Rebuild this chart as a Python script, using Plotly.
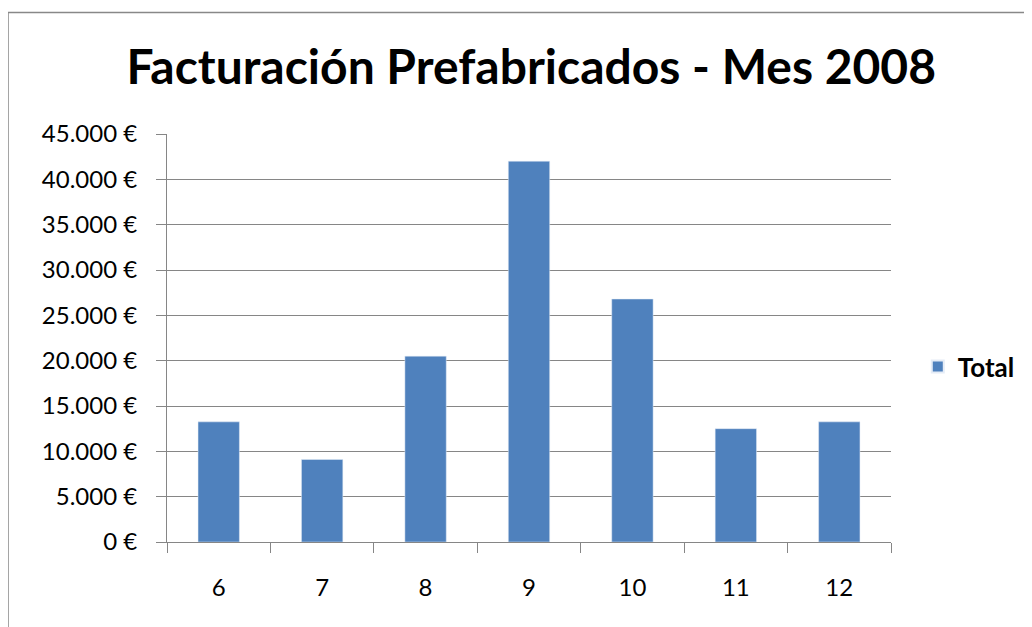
import plotly.graph_objects as go

# Datos: facturación por mes (2008)
meses = ['6', '7', '8', '9', '10', '11', '12']
total = [13250, 9100, 20500, 42000, 26800, 12500, 13250]

fig = go.Figure()
fig.add_trace(go.Bar(x=meses, y=total, name='<b>Total</b>', marker_color='#4F81BD'))

fig.update_layout(
    width=1032, height=627,
    margin=dict(l=159, r=149, t=126, b=93),
    paper_bgcolor='white', plot_bgcolor='white',
    separators=',.',
    font=dict(family='Lato', color='black'),
    bargap=0.6,
    title=dict(text='<b>Facturación Prefabricados - Mes 2008</b>',
               x=0.507, xanchor='center', y=1 - 59 / 627, yanchor='middle',
               font=dict(size=48, family='Lato', color='black')),
    showlegend=True,
    legend=dict(x=1.037, xanchor='left', y=0.43, yanchor='middle',
                font=dict(size=26, family='Lato', color='black'),
                itemsizing='constant'),
)

fig.update_yaxes(range=[0, 45000], dtick=5000, tickformat=',.0f', ticksuffix=' €',
                 showgrid=True, gridcolor='#868686', gridwidth=1,
                 showline=True, linecolor='#868686', linewidth=1,
                 ticks='outside', ticklen=10, tickcolor='#868686',
                 ticklabelstandoff=14, zeroline=False,
                 tickfont=dict(size=24, family='Lato'))
fig.update_xaxes(showline=True, linecolor='#868686', linewidth=1,
                 ticks='outside', ticklen=10, tickcolor='#868686',
                 tickson='boundaries', ticklabelstandoff=24, showgrid=False,
                 tickfont=dict(size=24, family='Lato'))

# marco del gráfico
fig.add_shape(type='rect', xref='paper', yref='paper',
              x0=(8 - 167) / 724, x1=1.4, y0=-0.4, y1=(542 - 12) / 408.3,
              line=dict(color='#888888', width=1.5), layer='below')

fig.write_html('out.html')
